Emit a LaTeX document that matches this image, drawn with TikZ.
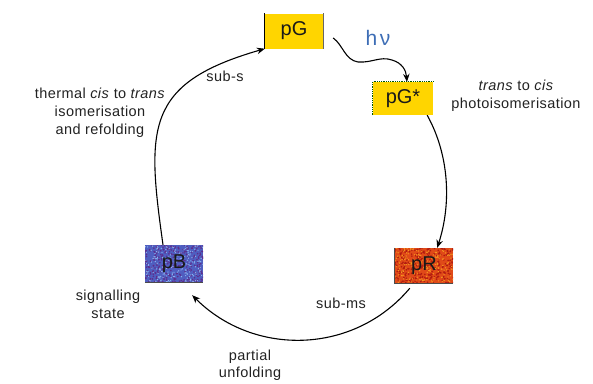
\documentclass[tikz,border=0pt]{standalone}
\usepackage{fontspec}
\setmainfont{Liberation Sans}
\usetikzlibrary{arrows.meta,calc}
\definecolor{gold}{HTML}{FFD500}
\definecolor{redbase}{HTML}{E04A18}
\definecolor{reddot}{HTML}{B01A10}
\definecolor{orangedot}{HTML}{F59A20}
\definecolor{bluebase}{HTML}{4F5EC0}
\definecolor{bluedot}{HTML}{5E2C8C}
\definecolor{lightdot}{HTML}{8CB4F0}
\definecolor{hvblue}{HTML}{3D6DB5}
\definecolor{txt}{HTML}{222222}
\pgfmathsetseed{7}
\begin{document}
\begin{tikzpicture}[x=1pt,y=1pt,
  lbl/.style={font=\fontsize{14.5}{18}\selectfont\addfontfeatures{LetterSpace=3}, align=center, inner sep=0pt, text=txt},
  box/.style={minimum width=58pt, minimum height=35pt, inner sep=0pt, font=\fontsize{20}{20}\selectfont, text=black!90},
  texbox/.style n args={3}{fill=#1, path picture={
      \foreach \i in {1,...,300}{\fill[#2] ($(path picture bounding box.south west)+({rnd*60},{rnd*38})$) circle (0.9pt);}
      \foreach \i in {1,...,200}{\fill[#3] ($(path picture bounding box.south west)+({rnd*60},{rnd*38})$) circle (0.7pt);}}},
  conn/.style={line width=1.1pt, black, -{Stealth[length=8pt,width=6.5pt]}},
]
\useasboundingbox (0,-383) rectangle (593,0);

% boxes
\node[box, fill=gold] (pG) at (294,-31) {pG};
\draw[line width=1pt] (pG.north west) -- (pG.south west);
\draw[line width=0.6pt, black!60] (pG.north east) -- (pG.south east);

\node[box, fill=gold, minimum width=60pt, minimum height=33pt] (pGs) at (403,-98.5) {pG*};
\draw[densely dotted, green!35!black, line width=0.8pt] (pGs.south west) -- (pGs.north west) -- (pGs.north east);

\node[box, texbox={redbase}{reddot}{orangedot}] (pR) at (424,-265.5) {pR};
\draw[line width=0.8pt, black!70] (pR.north west) -- (pR.south west) -- (pR.south east);

\node[box, texbox={bluebase}{bluedot}{lightdot}, minimum height=37pt] (pB) at (174,-263.5) {pB};
\draw[line width=0.8pt, black!70] (pB.south west) -- (pB.south east);

% connectors
\draw[conn] ($(pG.east)+(10,-7)$) .. controls (343,-45) and (345,-60) .. (358,-62)
   .. controls (372,-63) and (380,-56) .. (392,-60)
   .. controls (402,-63) and (406,-70) .. ($(pGs.north)+(4,0)$);
\draw[conn] ($(pGs.south east)+(-6,0)$) .. controls +(-61:46) and +(72:46) .. ($(pR.north east)+(-16,0)$);
\draw[conn] ($(pR.south west)+(15,-5)$) .. controls +(-130:87) and +(-45:87) .. ($(pB.south east)+(-11,-13)$);
\draw[conn] ($(pB.north)+(-11,0)$) .. controls +(98:118) and +(196:125) .. (pG.south west);

% labels
\node[font=\fontsize{21}{21}\selectfont\addfontfeatures{LetterSpace=12}, text=hvblue, inner sep=0pt] (hv) at (378,-38) {hν};
\node[lbl] (tc) at (516,-95.5) {\textit{trans} to \textit{cis}\\photoisomerisation};
\node[lbl] (th) at (100,-113) {thermal \textit{cis} to \textit{trans}\\isomerisation\\and refolding};
\node[lbl] (subs) at (225,-76) {sub-s};
\node[lbl] (sig) at (108,-304) {signalling\\state};
\node[lbl] (subms) at (341,-303) {sub-ms};
\node[lbl, font=\fontsize{14.5}{16.5}\selectfont\addfontfeatures{LetterSpace=3}] (pu) at (250,-365) {partial\\unfolding};
\end{tikzpicture}
\end{document}
